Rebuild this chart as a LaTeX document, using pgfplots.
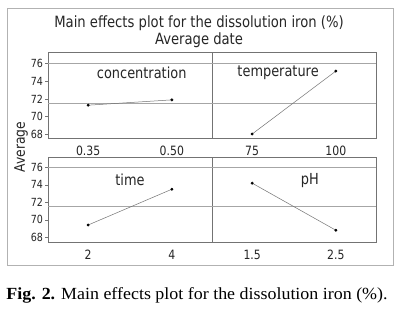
\documentclass[border=0pt]{standalone}
\usepackage{fontspec}
\setmainfont{DejaVu Sans}[FakeStretch=0.85]
\newfontfamily\capfont{Liberation Serif}[FakeStretch=1.055]
\usepackage{pgfplots}
\pgfplotsset{compat=1.18}
\tikzset{plab/.style={font=\fontsize{15.2bp}{16bp}\selectfont, text=black!85}}
\pgfplotsset{
  panel/.style={
    scale only axis, width=164bp, height=86bp,
    xmin=0.52, xmax=2.48, ymin=67.6, ymax=77.3,
    xtick={1,2}, ytick={68,70,...,76},
    axis line style={black!55, line width=0.6pt},
    tick align=outside, tick style={black!55, line width=0.5pt},
    major tick length=3bp,
    xtick pos=bottom, ytick pos=left,
    x tick style={draw=none},
    xticklabel style={font=\fontsize{12.8bp}{14bp}\selectfont, text=black!85, yshift=-1.5bp},
    yticklabel style={font=\fontsize{11.2bp}{12bp}\selectfont, text=black!85, xshift=1.5bp},
    /pgf/number format/assume math mode=true,
    clip=false,
  },
  ref/.style={black!35, line width=0.9pt, forget plot},
  dat/.style={black!55, line width=0.5pt, mark=*, mark size=1.2bp, mark options={black, fill=black, draw=black}},
  noy/.style={ytick=\empty, yticklabels={}},
}
\begin{document}
\begin{tikzpicture}
\useasboundingbox (0bp,0bp) rectangle (394bp,314bp);
\fill[white] (0bp,0bp) rectangle (394bp,314bp);
\draw[black!30, line width=0.8pt] (7bp,49bp) rectangle (393bp,306bp);
\node[font=\fontsize{15.5bp}{17bp}\selectfont, text=black!85] at (199bp,291bp) {Main effects plot for the dissolution iron (\%)};
\node[font=\fontsize{15.5bp}{17bp}\selectfont, text=black!85] at (199bp,274bp) {Average date};
\node[rotate=90, font=\fontsize{14.5bp}{15bp}\selectfont, text=black!85] at (21bp,167bp) {Average};
% top-left
\begin{axis}[panel, at={(48bp,176bp)}, anchor=south west, xticklabels={0.35,0.50}]
\addplot[ref] coordinates {(0.52,76) (2.48,76)};
\addplot[ref] coordinates {(0.52,71.55) (2.48,71.55)};
\addplot[dat] coordinates {(1,71.3) (2,71.9)};
\node[plab] at (axis cs:1.64,75.0) {concentration};
\end{axis}
% top-right
\begin{axis}[panel, noy, at={(212bp,176bp)}, anchor=south west, xticklabels={75,100}]
\addplot[ref] coordinates {(0.52,76) (2.48,76)};
\addplot[ref] coordinates {(0.52,71.55) (2.48,71.55)};
\addplot[dat] coordinates {(1,68.05) (2,75.15)};
\node[plab] at (axis cs:1.31,75.0) {temperature};
\end{axis}
% bottom-left
\begin{axis}[panel, height=85bp, ymin=67.45, ymax=77.2, at={(48bp,72bp)}, anchor=south west, xticklabels={2,4}]
\addplot[ref] coordinates {(0.52,76) (2.48,76)};
\addplot[ref] coordinates {(0.52,71.5) (2.48,71.5)};
\addplot[dat] coordinates {(1,69.4) (2,73.5)};
\node[plab] at (axis cs:1.5,74.55) {time};
\end{axis}
% bottom-right
\begin{axis}[panel, noy, height=85bp, ymin=67.45, ymax=77.2, at={(212bp,72bp)}, anchor=south west, xticklabels={1.5,2.5}]
\addplot[ref] coordinates {(0.52,76) (2.48,76)};
\addplot[ref] coordinates {(0.52,71.5) (2.48,71.5)};
\addplot[dat] coordinates {(1,74.2) (2,68.8)};
\node[plab] at (axis cs:1.69,74.55) {pH};
\end{axis}
\node[font=\capfont\fontsize{17bp}{19bp}\selectfont] at (197bp,19bp) {\textbf{Fig. 2.} Main effects plot for the dissolution iron (\%).};
\end{tikzpicture}
\end{document}
